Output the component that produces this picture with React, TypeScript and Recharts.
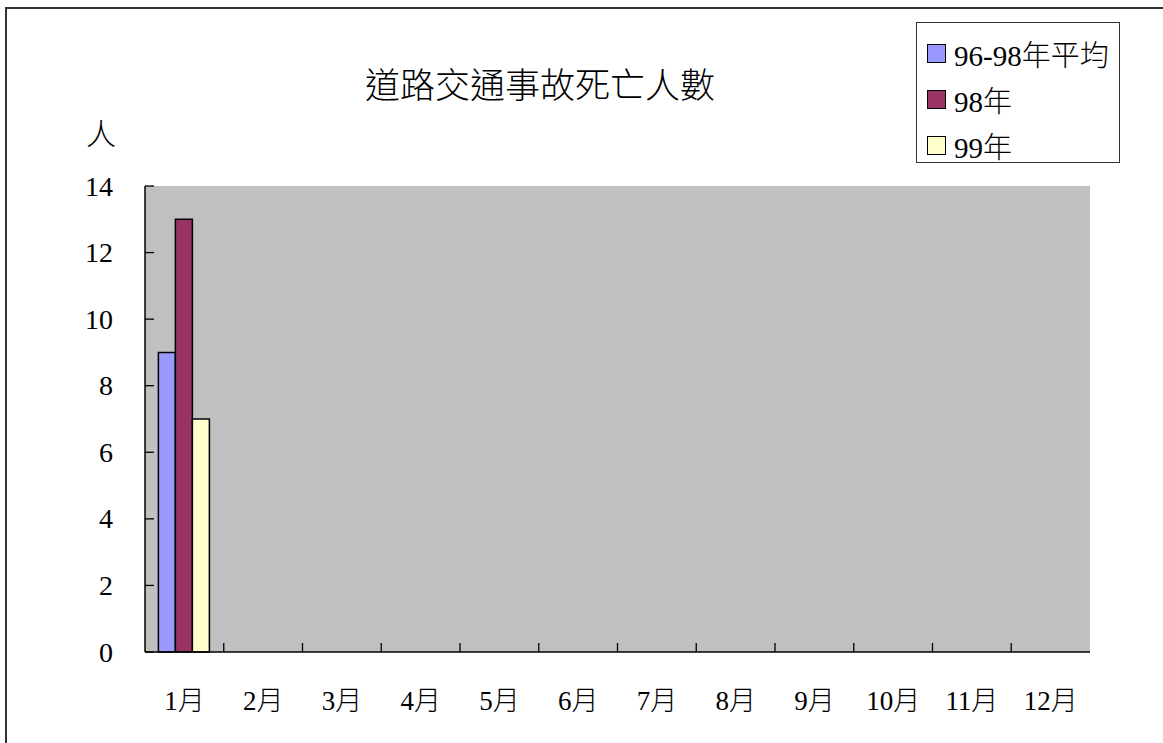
import React from "react";
import { BarChart, Bar, XAxis, YAxis, CartesianGrid } from "recharts";

const MONTHS = ["1月", "2月", "3月", "4月", "5月", "6月", "7月", "8月", "9月", "10月", "11月", "12月"];
const AVG_96_98 = [9, null, null, null, null, null, null, null, null, null, null, null];
const Y98 = [13, null, null, null, null, null, null, null, null, null, null, null];
const Y99 = [7, null, null, null, null, null, null, null, null, null, null, null];
const Y_TICKS = [0, 2, 4, 6, 8, 10, 12, 14];
const SERIES = [
  { key: "avg", name: "96-98年平均", color: "#9999FF" },
  { key: "y98", name: "98年", color: "#993366" },
  { key: "y99", name: "99年", color: "#FFFFCC" },
];
const TITLE = "道路交通事故死亡人數";
const Y_UNIT = "人";

const data = MONTHS.map((m, i) => ({ month: m, avg: AVG_96_98[i], y98: Y98[i], y99: Y99[i] }));

const W = 1163;
const H = 743;
const PLOT_LEFT = 145;
const PLOT_RIGHT = 1090;
const PLOT_TOP = 186;
const PLOT_BOTTOM = 652;
const PLOT_W = PLOT_RIGHT - PLOT_LEFT;
const FONT = "'Liberation Serif', 'Noto Sans CJK TC', serif";

const XTick = (props: any) => {
  const { x, y, payload, index } = props;
  const half = PLOT_W / MONTHS.length / 2;
  return (
    <g>
      {index < MONTHS.length - 1 && (
        <line x1={x + half} x2={x + half} y1={y} y2={y - 9} stroke="#000" strokeWidth={1.3} />
      )}
      <text x={x} y={y + 49} textAnchor="middle" dominantBaseline="central" fontSize={27} fontFamily={FONT} fontWeight={300} fill="#000">
        {payload.value}
      </text>
    </g>
  );
};

const YTick = (props: any) => {
  const { x, y, payload } = props;
  return (
    <g>
      <line x1={x} x2={x + 9} y1={y} y2={y} stroke="#000" strokeWidth={1.3} />
      <text x={x - 32} y={y} textAnchor="end" dominantBaseline="central" fontSize={28} fontFamily={FONT} fill="#000">
        {payload.value}
      </text>
    </g>
  );
};

export default function App() {
  return (
    <div style={{ position: "fixed", left: 0, top: 0, width: W, height: H, overflow: "hidden", background: "#fff" }}>
      <BarChart
        width={W}
        height={H}
        data={data}
        margin={{ top: PLOT_TOP, right: W - PLOT_RIGHT, left: PLOT_LEFT - 60, bottom: H - PLOT_BOTTOM - 60 }}
        barCategoryGap="17%"
        barGap={0}
        style={{ position: "absolute", left: 0, top: 0 }}
      >
        <CartesianGrid horizontal={false} vertical={false} fill="#C0C0C0" fillOpacity={1} stroke="none" />
        <XAxis
          dataKey="month"
          height={60}
          tickLine={false}
          tickSize={0}
          tickMargin={0}
          interval={0}
          axisLine={{ stroke: "#000", strokeWidth: 1.5 }}
          tick={<XTick />}
        />
        <XAxis xAxisId="top" orientation="top" dataKey="month" height={0} tick={false} tickLine={false} axisLine={{ stroke: "#808080", strokeWidth: 1.5 }} />
        <YAxis
          width={60}
          domain={[0, 14]}
          ticks={Y_TICKS}
          interval={0}
          tickLine={false}
          tickSize={0}
          tickMargin={0}
          axisLine={{ stroke: "#000", strokeWidth: 1.5 }}
          tick={<YTick />}
        />
        <YAxis yAxisId="right" orientation="right" width={0} domain={[0, 14]} tick={false} tickLine={false} axisLine={{ stroke: "#808080", strokeWidth: 1.5 }} />
        {SERIES.map((s) => (
          <Bar key={s.key} dataKey={s.key} name={s.name} fill={s.color} stroke="#000" strokeWidth={1.5} isAnimationActive={false} />
        ))}
      </BarChart>
      <div
        style={{
          position: "absolute",
          left: 0,
          width: 1080,
          top: 65,
          textAlign: "center",
          fontSize: 35,
          fontFamily: FONT,
          fontWeight: 300,
          lineHeight: "44px",
          color: "#000",
        }}
      >
        {TITLE}
      </div>
      <div style={{ position: "absolute", left: 86, top: 116, fontSize: 30, fontFamily: FONT, fontWeight: 300, lineHeight: "38px" }}>{Y_UNIT}</div>
      <div
        style={{
          position: "absolute",
          left: 916,
          top: 22,
          width: 204,
          height: 141,
          border: "1.5px solid #333",
          boxSizing: "border-box",
          background: "#fff",
        }}
      >
        {SERIES.map((s, i) => (
          <div key={s.key} style={{ position: "absolute", left: 10, top: 8 + i * 46, height: 44, display: "flex", alignItems: "center" }}>
            <div style={{ width: 17, height: 17, background: s.color, border: "1.5px solid #000", marginRight: 8 }} />
            <span style={{ fontSize: 29, fontFamily: FONT, fontWeight: 300, color: "#000", whiteSpace: "nowrap" }}>{s.name}</span>
          </div>
        ))}
      </div>
      <div style={{ position: "absolute", left: 5, top: 7, width: W, height: 2, background: "#333", pointerEvents: "none" }} />
      <div style={{ position: "absolute", left: 5, top: 7, width: 2, height: H, background: "#333", pointerEvents: "none" }} />
    </div>
  );
}
